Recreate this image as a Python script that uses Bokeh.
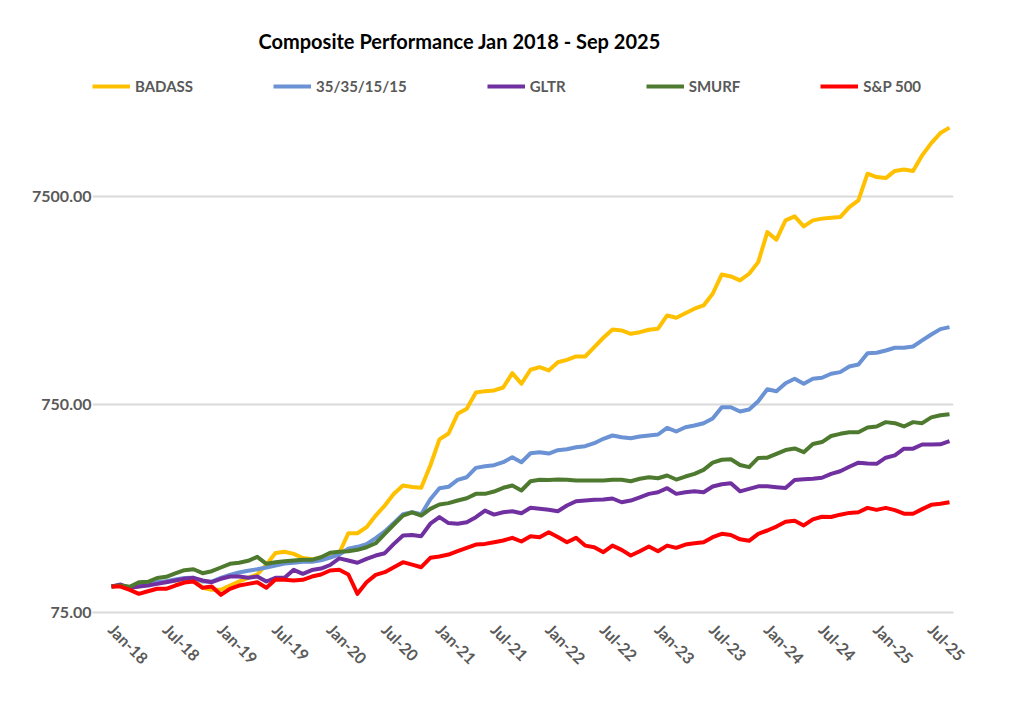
import pandas as pd
from math import pi
from bokeh.plotting import figure
from bokeh.models import Range1d, FixedTicker, NumeralTickFormatter, Legend, LegendItem, Label
from bokeh.embed import file_html
from bokeh.resources import INLINE

months = pd.date_range("2018-01-01", periods=93, freq="MS")
month_labels = [d.strftime("%b-%y") for d in months]
x_idx = list(range(len(months)))

badass = [100, 101.1, 98.6, 100, 102.2, 103.7, 105.7, 106.9, 107.7, 107.7,
          98.6, 96.4, 96.4, 101.1, 105.7, 110.1, 114.2, 127.6, 144.9, 147.0,
          143.6, 137.1, 135.1, 137.9, 143.6, 144.9, 180.4, 180.4, 192.9, 219.4,
          245.1, 279.0, 305.8, 300.8, 298.2, 381.7, 509.5, 544.0, 676.6, 715.3,
          857.2, 869.6, 876.5, 905.5, 1061, 943.4, 1102, 1134, 1094, 1198,
          1230, 1276, 1276, 1415, 1570, 1722, 1703, 1641, 1670, 1716,
          1735, 2010, 1960, 2061, 2165, 2246, 2556, 3165, 3096, 2961,
          3189, 3627, 5057, 4650, 5760, 6019, 5388, 5760, 5870, 5935,
          5973, 6672, 7185, 9655, 9302, 9199, 9953, 10109, 9953, 11830,
          13550, 15140, 16080]

mix_35_35_15_15 = [100, 101.1, 98.9, 100.6, 102.8, 105.1, 106.0, 108.1, 109.9, 110.1,
                   105.7, 105.7, 109.9, 113.6, 116.8, 119.0, 121.0, 123.4, 126.2, 129.0,
                   130.1, 131.4, 131.6, 133.8, 137.9, 142.5, 151.8, 155.2, 159.7, 171.0,
                   183.9, 202.3, 222.4, 227.4, 222.4, 263.0, 296.9, 301.5, 325.8, 335.3,
                   371.9, 378.3, 383.0, 395.9, 418.4, 395.9, 437.4, 442.2, 435.9, 452.1,
                   457.2, 467.4, 472.6, 488.7, 513.2, 532.1, 522.2, 516.5, 526.3, 532.1,
                   538.0, 579.4, 556.2, 583.3, 594.4, 609.8, 642.4, 728.0, 728.0, 694.2,
                   709.7, 778.0, 888.2, 868.7, 949.6, 996.9, 943.3, 996.9, 1008, 1054,
                   1073, 1143, 1168, 1324, 1330, 1364, 1406, 1406, 1426, 1524,
                   1628, 1728, 1766]

gltr = [100, 102.2, 98.6, 100, 101.1, 103.0, 104.9, 106.9, 108.9, 110.1,
        106.9, 104.9, 108.9, 111.7, 111.7, 110.1, 111.7, 105.7, 110.1, 110.1,
        120.3, 115.1, 120.0, 122.0, 126.9, 136.6, 133.3, 130.1, 135.9, 140.9,
        144.6, 160.3, 175.9, 176.9, 174.6, 200.4, 215.5, 201.8, 200.4, 203.9,
        215.5, 231.7, 221.7, 227.4, 230.1, 225.0, 238.9, 236.3, 233.8, 230.1,
        245.0, 257.1, 259.1, 261.1, 262.0, 265.0, 254.2, 259.1, 268.6, 278.9,
        283.9, 297.0, 278.9, 283.9, 287.1, 283.9, 302.5, 310.2, 313.7, 286.8,
        294.8, 303.1, 303.1, 300.2, 297.6, 324.8, 328.1, 329.5, 333.2, 348.2,
        358.4, 376.5, 393.8, 390.3, 389.0, 416.2, 426.9, 460.0, 460.0, 481.4,
        481.4, 482.5, 500.0]

smurf = [100, 101.1, 99.7, 104.9, 105.3, 109.9, 111.3, 115.5, 119.8, 121.1,
         115.9, 118.5, 123.4, 128.6, 130.0, 132.9, 138.9, 128.6, 130.9, 132.3,
         133.4, 134.4, 134.4, 138.3, 145.4, 147.0, 147.8, 150.1, 154.5, 161.4,
         179.2, 198.7, 219.3, 227.4, 219.3, 236.3, 248.0, 251.7, 259.1, 265.8,
         278.9, 278.9, 286.2, 298.3, 305.8, 289.4, 320.7, 325.7, 325.0, 326.8,
         325.7, 323.2, 323.2, 323.2, 323.2, 325.7, 325.7, 320.7, 329.5, 335.3,
         331.6, 341.6, 326.8, 337.9, 348.2, 364.0, 393.8, 406.8, 409.0, 384.0,
         374.8, 415.3, 416.2, 433.9, 453.0, 461.0, 442.6, 484.1, 494.9, 529,
         542, 552, 552, 581, 588, 617, 610, 588, 617, 610,
         650, 666, 674]

sp500 = [100, 100, 96.4, 92.2, 94.9, 97.5, 97.5, 101.1, 104.5, 105.7,
         98.6, 100, 91.2, 97.5, 101.1, 103.0, 104.9, 98.6, 108.1, 107.7,
         106.9, 107.7, 111.7, 114.2, 119.4, 120.3, 114.2, 92.2, 104.9, 113.8,
         117.2, 123.8, 130.9, 127.5, 123.8, 137.4, 139.4, 142.5, 147.8, 153.3,
         159.1, 160.3, 163.3, 166.5, 171.4, 164.6, 174.5, 172.6, 182.4, 173.0,
         163.3, 171.4, 157.3, 154.4, 146.2, 157.3, 150.1, 140.9, 147.8, 155.7,
         147.8, 157.3, 153.4, 159.1, 161.4, 163.3, 172.6, 179.2, 176.9, 168.6,
         165.8, 179.2, 185.9, 194.1, 204.9, 207.2, 196.6, 210.4, 216.5, 215.8,
         221.5, 225.9, 227.6, 238.7, 233.5, 238.7, 233.0, 223.9, 223.9, 235.6,
         247.0, 249.8, 254.2]

series_names = ["BADASS", "35/35/15/15", "GLTR", "SMURF", "S&P 500"]
series_values = [badass, mix_35_35_15_15, gltr, smurf, sp500]
series_colors = ["#FFC000", "#6A92D4", "#7030A0", "#4E7A2F", "#FF0000"]

y_ticks = [75, 750, 7500]
x_ticks = [i for i, d in enumerate(months) if d.month in (1, 7)]
title_text = "Composite Performance Jan 2018 - Sep 2025"

p = figure(width=1016, height=714, y_axis_type="log",
           x_range=Range1d(-2.09, 92.44), y_range=Range1d(75, 65670),
           output_backend="svg", toolbar_location=None,
           min_border_left=92, min_border_right=63,
           min_border_top=0, min_border_bottom=102)
p.outline_line_color = None
p.background_fill_color = "white"
p.border_fill_color = "white"

p.xgrid.visible = False
p.ygrid.ticker = FixedTicker(ticks=y_ticks)
p.ygrid.grid_line_color = "#d9d9d9"
p.ygrid.grid_line_width = 2

p.yaxis.ticker = FixedTicker(ticks=y_ticks)
p.yaxis.formatter = NumeralTickFormatter(format="0.00")
p.yaxis.axis_line_color = None
p.yaxis.major_tick_line_color = None
p.yaxis.minor_tick_line_color = None
p.yaxis.major_tick_out = 0
p.yaxis.minor_tick_out = 0
p.yaxis.major_label_standoff = 1
p.yaxis.major_label_text_font = "Lato"
p.yaxis.major_label_text_font_style = "bold"
p.yaxis.major_label_text_font_size = "16px"
p.yaxis.major_label_text_color = "#595959"

p.xaxis.ticker = FixedTicker(ticks=x_ticks)
p.xaxis.major_label_overrides = {i: month_labels[i] for i in x_ticks}
p.xaxis.major_label_orientation = -pi / 4
p.xaxis.axis_line_color = "#d9d9d9"
p.xaxis.axis_line_width = 2
p.xaxis.major_tick_line_color = None
p.xaxis.minor_tick_line_color = None
p.xaxis.major_tick_out = 0
p.xaxis.minor_tick_out = 0
p.xaxis.major_label_standoff = 14
p.xaxis.major_label_text_font = "Lato"
p.xaxis.major_label_text_font_style = "bold"
p.xaxis.major_label_text_font_size = "16px"
p.xaxis.major_label_text_color = "#595959"

items = []
for name, vals, col in zip(series_names, series_values, series_colors):
    r = p.line(x_idx, vals, line_color=col, line_width=4, line_join="round")
    items.append(LegendItem(label=name, renderers=[r]))

legend = Legend(items=items, location=(0, 516), orientation="horizontal",
                glyph_width=38, glyph_height=20, label_standoff=5, spacing=80,
                padding=0, margin=0, border_line_color=None,
                background_fill_alpha=0,
                label_text_font="Lato", label_text_font_style="bold",
                label_text_font_size="15px", label_text_color="#595959")
p.add_layout(legend)

title = Label(x=166, y=572, x_units="screen", y_units="screen", text=title_text,
              text_font="Lato", text_font_style="bold", text_font_size="20px",
              text_color="#000000", text_baseline="middle", text_align="left")
p.add_layout(title)

open("out.html", "w").write(file_html(p, INLINE))
